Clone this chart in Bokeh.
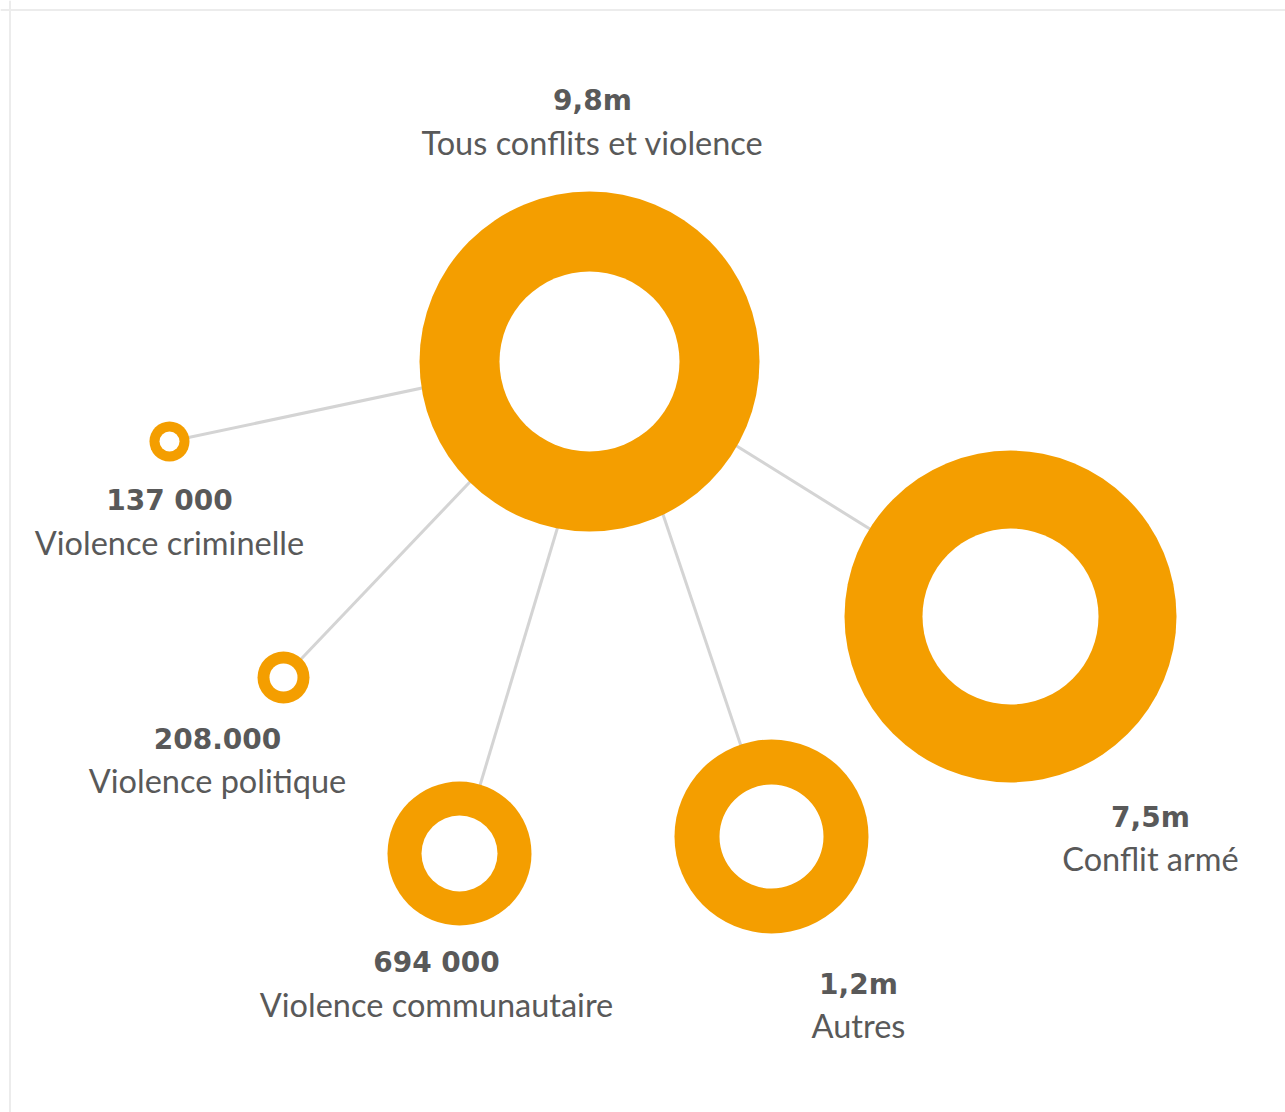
from bokeh.plotting import figure
from bokeh.models import Range1d, ColumnDataSource, Span
from bokeh.core.properties import value
from bokeh.embed import file_html
from bokeh.resources import INLINE

# ---- data ----
categories = ["Tous conflits et violence", "Violence criminelle", "Violence politique",
              "Violence communautaire", "Autres", "Conflit armé"]
values = [9_800_000, 137_000, 208_000, 694_000, 1_200_000, 7_500_000]
value_labels = ["9,8m", "137 000", "208.000", "694 000", "1,2m", "7,5m"]

# ---- layout (pixel space) ----
cx = [589, 169, 283, 459, 771, 1010]
cy = [361, 441, 677, 853, 836, 616]
r_outer = [170, 20, 26, 72, 97, 166]
r_inner = [90, 10, 14, 38, 52, 88]
link_x0 = [589, 589, 607, 611, 589]
link_y0 = [352, 356, 361, 361, 354]
lab_x = [592, 169, 217, 436, 858, 1150]
lab_y_val = [100, 500, 738, 962, 984, 817]
lab_y_cat = [142, 542, 780, 1004, 1025, 858]

W, H = 1285, 1112
ORANGE = "#f49e00"
TEXT = "#595959"

p = figure(width=W, height=H, x_range=Range1d(0, W), y_range=Range1d(H, 0),
           output_backend="svg", toolbar_location=None, min_border=0)
p.axis.visible = False
p.grid.visible = False
p.outline_line_color = None
p.background_fill_color = "white"
p.border_fill_color = "white"

p.add_layout(Span(location=9.5, dimension="height", line_color="#ececec", line_width=2))
p.add_layout(Span(location=9.5, dimension="width", line_color="#ececec", line_width=2))

seg = ColumnDataSource(dict(x0=link_x0, y0=link_y0, x1=cx[1:], y1=cy[1:]))
p.segment("x0", "y0", "x1", "y1", source=seg, line_color="#d4d4d4", line_width=3)

src = ColumnDataSource(dict(x=cx, y=cy, ro=r_outer, ri=r_inner, cat=categories,
                            val=values, vl=value_labels, lx=lab_x, lyv=lab_y_val, lyc=lab_y_cat))
p.circle("x", "y", radius="ro", source=src, fill_color=ORANGE, line_color=None)
p.circle("x", "y", radius="ri", source=src, fill_color="white", line_color=None)

p.text("lx", "lyv", text="vl", source=src, text_font=value("DejaVu Sans"), text_font_style="bold",
       text_font_size="28px", text_color=TEXT, text_align="center", text_baseline="middle")
p.text("lx", "lyc", text="cat", source=src, text_font=value("Lato"),
       text_font_size="32.5px", text_color=TEXT, text_align="center", text_baseline="middle")

open("out.html", "w").write(file_html(p, INLINE))
